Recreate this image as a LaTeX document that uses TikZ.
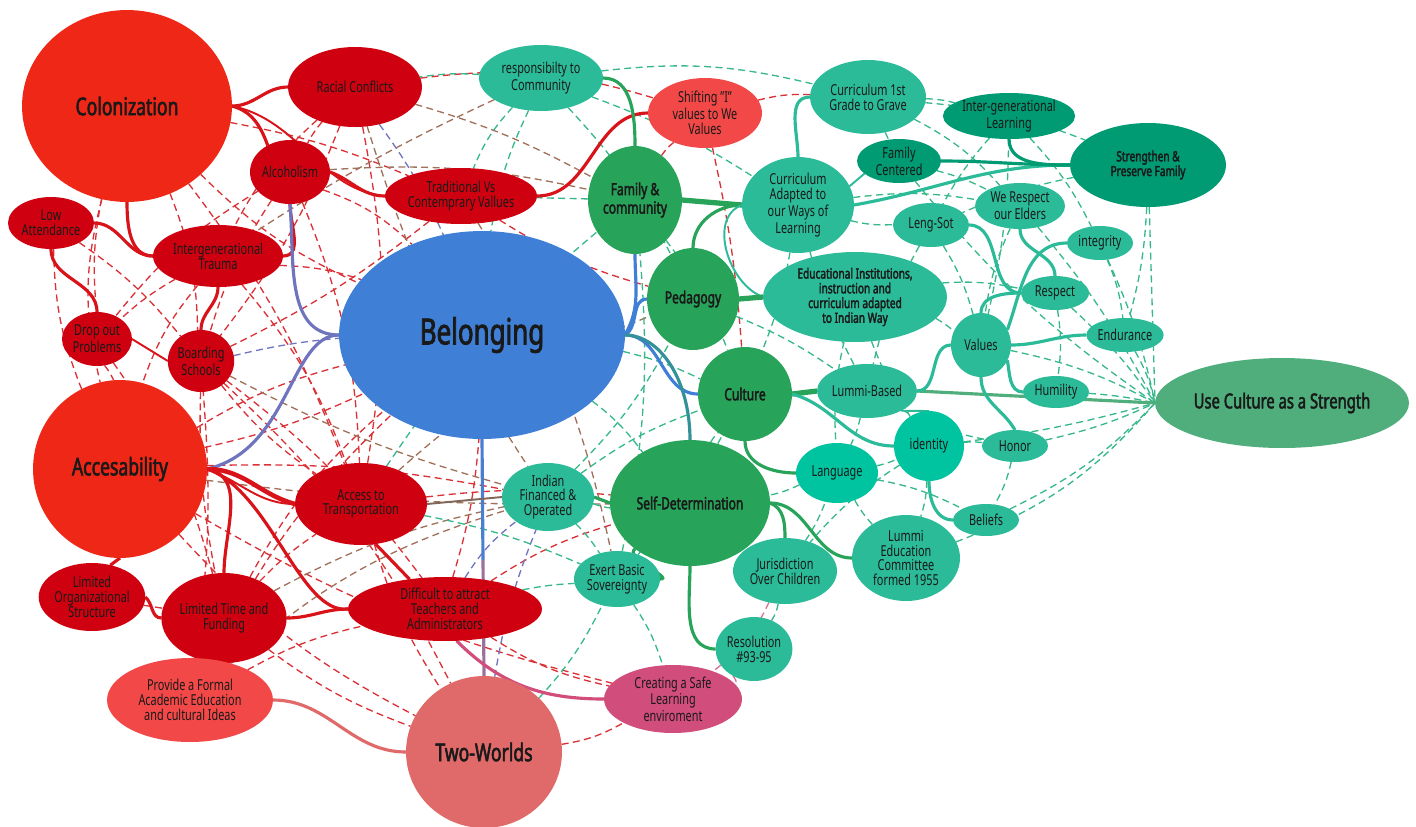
\documentclass[tikz,border=0pt]{standalone}
\usepackage{fontspec}
\setmainfont[FakeStretch=0.72, BoldFont={Noto Sans}, BoldFeatures={FakeBold=2.2}]{Noto Sans}
\usepackage{tikz}
\usetikzlibrary{positioning}
\usetikzlibrary{shapes.geometric,backgrounds}
\pgfdeclarelayer{edgelayer}
\pgfsetlayers{edgelayer,main}

\definecolor{bigred}{HTML}{EF2717}
\definecolor{darkred}{HTML}{CF000F}
\definecolor{lightred}{HTML}{F24848}
\definecolor{rose}{HTML}{E0696A}
\definecolor{pinky}{HTML}{D14D7B}
\definecolor{blueish}{HTML}{3F80D6}
\definecolor{hubg}{HTML}{27A35A}
\definecolor{tealn}{HTML}{2BBB98}
\definecolor{brightt}{HTML}{00C4A0}
\definecolor{darkt}{HTML}{009A73}
\definecolor{sage}{HTML}{4FAE7C}
\definecolor{redl}{HTML}{D8141A}
\definecolor{purp}{HTML}{6F74BE}
\definecolor{dred}{HTML}{DB3035}
\definecolor{dgreen}{HTML}{36B88A}
\definecolor{brownd}{HTML}{A0705A}

\newcommand\regf{\fontsize{8.6}{8.4}\selectfont}
\newcommand\bigf{\fontsize{13.9}{15}\selectfont\bfseries}
\newcommand\hubf{\fontsize{9.5}{10.5}\selectfont\bfseries}
\newcommand\sbf{\fontsize{8}{8.4}\selectfont\bfseries}

\tikzstyle{nd}=[ellipse,inner sep=0pt,outer sep=0pt,align=center,text=black!90,font=\regf]
\tikzstyle{bn}=[nd,fill=bigred,font=\bigf]
\tikzstyle{rn}=[nd,fill=darkred]
\tikzstyle{ln}=[nd,fill=lightred]
\tikzstyle{gn}=[nd,fill=hubg,font=\hubf]
\tikzstyle{tn}=[nd,fill=tealn]
\tikzstyle{bt}=[nd,fill=brightt]
\tikzstyle{dt}=[nd,fill=darkt]
\tikzset{
  sz/.style 2 args={minimum width=#1*0.04cm, minimum height=#2*0.04cm},
  se/.style={draw=#1, line width=1.8pt},
  te/.style={draw=#1, line width=1.1pt},
  de/.style={draw=#1, line width=0.75pt, dash pattern=on 4pt off 2.5pt}
}

\begin{document}
\begin{tikzpicture}[x=0.02cm,y=0.02cm]
  \useasboundingbox (0,0) rectangle (1416,-826);

  % problems side
  \node[bn, sz={105}{96}] (col) at (127,-106) {Colonization};
  \node[rn, sz={67}{40}] (rac) at (355,-87) {Racial Conflicts};
  \node[rn, sz={40}{32}] (alc) at (290,-172) {Alcoholism};
  \node[rn, sz={76}{28}] (trad) at (461,-196) {Traditional Vs\\Contemprary Vallues};
  \node[rn, sz={43}{26}] (low) at (51,-223) {Low\\Attendance};
  \node[rn, sz={65}{31}] (trauma) at (218,-256) {Intergenerational\\Trauma};
  \node[rn, sz={35}{27}] (drop) at (97,-339) {Drop out\\Problems};
  \node[rn, sz={33}{31}] (board) at (201,-361) {Boarding\\Schools};
  \node[bn, sz={87}{89}] (acc) at (120,-469) {Accesability};
  \node[rn, sz={66}{41}] (trans) at (361,-504) {Access to\\Transportation};
  \node[rn, sz={53}{34}] (lorg) at (92,-597) {Limited\\Organizational\\Structure};
  \node[rn, sz={62}{45}] (ltf) at (224,-618) {Limited Time and\\Funding};
  \node[rn, sz={97}{32}] (diff) at (445,-609) {Difficult to attract\\Teachers and\\Administrators};
  \node[ln, sz={83}{42}] (prov) at (190,-700) {Provide a Formal\\Academic Education\\and cultural Ideas};
  \node[bn, fill=rose, sz={78}{76}] (two) at (484,-752) {Two-Worlds};
  \node[nd, fill=pinky, sz={69}{34}] (safe) at (673,-699) {Creating a Safe\\Learning\\enviroment};
  \node[ln, sz={57}{35}] (shift) at (705,-113) {Shifting "I"\\values to We\\Values};

  % centre
  \node[nd, fill=blueish, sz={143}{104}, font=\fontsize{20.5}{22}\selectfont\bfseries] (bel) at (482,-335) {Belonging};

  % strengths side
  \node[gn, sz={47}{54}] (fam) at (635,-200) {Family \&\\community};
  \node[gn, sz={46}{51}] (ped) at (693,-299) {Pedagogy};
  \node[gn, sz={47}{47}] (cult) at (745,-394) {Culture};
  \node[gn, sz={80}{63}] (sd) at (690,-503) {Self-Determination};
  \node[tn, sz={62}{33}] (rtc) at (541,-78) {responsibilty to\\Community};
  \node[tn, sz={58}{37}] (c1st) at (868,-97) {Curriculum 1st\\Grade to Grave};
  \node[dt, sz={42}{22}] (famc) at (899,-161) {Family\\Centered};
  \node[tn, sz={56}{48}] (cadapt) at (798,-205) {Curriculum\\Adapted to\\our Ways of\\Learning};
  \node[dt, sz={65}{23}] (igl) at (1009,-116) {Inter-generational\\Learning};
  \node[dt, sz={78}{42}, font=\sbf] (spf) at (1148,-165) {Strengthen \&\\Preserve Family};
  \node[tn, sz={45}{23}] (elders) at (1020,-206) {We Respect\\our Elders};
  \node[tn, sz={38}{22}] (leng) at (931,-225) {Leng-Sot};
  \node[tn, sz={33}{17}] (integ) at (1100,-243) {integrity};
  \node[tn, sz={34}{17}] (resp) at (1055,-293) {Respect};
  \node[tn, sz={38}{17}] (endur) at (1125,-335) {Endurance};
  \node[tn, sz={30}{32}] (values) at (981,-345) {Values};
  \node[tn, sz={33}{16}] (humil) at (1056,-392) {Humility};
  \node[tn, sz={33}{16}] (honor) at (1015,-446) {Honor};
  \node[tn, sz={33}{16}] (beliefs) at (986,-520) {Beliefs};
  \node[tn, sz={92}{45}, font=\sbf] (edu) at (855,-297) {Educational Institutions,\\instruction and\\curriculum adapted\\to Indian Way};
  \node[tn, sz={50}{27}] (lbased) at (867,-391) {Lummi-Based};
  \node[bt, sz={35}{35}] (iden) at (929,-446) {identity};
  \node[bt, sz={41}{30}] (lang) at (837,-473) {Language};
  \node[tn, sz={54}{43}] (lec) at (906,-558) {Lummi\\Education\\Committee\\formed 1955};
  \node[tn, sz={52}{33}] (jur) at (785,-571) {Jurisdiction\\Over Children};
  \node[tn, sz={38}{32}] (res) at (754,-649) {Resolution\\\#93-95};
  \node[tn, sz={43}{28}] (ebs) at (617,-579) {Exert Basic\\Sovereignty};
  \node[tn, sz={46}{34}] (ifo) at (548,-497) {Indian\\Financed \&\\Operated};
  \node[nd, fill=sage, sz={127}{45}, font=\fontsize{11.7}{13}\selectfont\bfseries] (ucs) at (1282,-403) {Use Culture as a Strength};

  \begin{pgfonlayer}{edgelayer}
    % dashed cross links
    \path[de=dred]
      (col) edge[bend left=10] (board) (col) edge[bend right=8] (drop)
      (col) edge[bend right=10] (bel) (col) edge[bend left=6] (trad)
      (col) edge[bend left=8] (trans) (rac) edge[bend right=10] (trauma)
      (rac) edge[bend left=8] (board) (rac) edge[bend right=6] (alc)
      (rac) edge[bend left=12] (shift) (alc) edge[bend right=8] (board)
      (alc) edge[bend left=10] (trans) (low) edge[bend right=10] (acc)
      (drop) edge[bend left=6] (acc) (drop) edge[bend left=10] (ltf)
      (trauma) edge[bend left=8] (bel) (trauma) edge[bend right=10] (acc)
      (trauma) edge[bend left=10] (trans) (board) edge[bend right=8] (trans)
      (board) edge[bend left=8] (diff) (board) edge[bend right=6] (ltf)
      (acc) edge[bend left=8] (bel) (acc) edge[bend right=6] (bel)
      (acc) edge[bend left=6] (ifo) (acc) edge[bend right=10] (two)
      (acc) edge[bend right=8] (safe) (lorg) edge (ltf)
      (ltf) edge[bend left=10] (bel) (ltf) edge[bend right=8] (two)
      (prov) edge[bend left=8] (diff) (prov) edge[bend left=10] (bel)
      (diff) edge[bend left=8] (sd) (diff) edge[bend right=10] (safe)
      (two) edge[bend right=10] (safe) (trans) edge[bend left=6] (sd)
      (shift) edge[bend left=4] (cult) (shift) edge[bend left=8] (c1st)
      (trad) edge[bend right=8] (ped) (col) edge[bend right=14] (acc)
      (low) edge[bend left=8] (board) (trauma) edge[bend right=6] (drop)
      (alc) edge[bend right=10] (drop) (board) edge[bend left=10] (two)
      (trans) edge[bend right=8] (two) (rac) edge[bend left=10] (trans)
      (trad) edge[bend left=6] (board) (alc) edge[bend left=12] (bel)
      (ltf) edge[bend left=6] (trans) (prov) edge[bend right=6] (board)
      (diff) edge[bend right=6] (bel) (shift) edge[bend right=8] (fam);
    \path[de=brownd]
      (rac) edge[bend right=8] (ifo) (alc) edge[bend left=8] (fam)
      (trad) edge[bend left=10] (ebs) (trans) edge[bend left=10] (ped)
      (board) edge[bend right=6] (ifo) (prov) edge[bend left=12] (ifo)
      (rac) edge[bend left=6] (fam) (acc) edge[bend right=4] (sd)
      (rtc) edge[bend right=4] (trauma) (ltf) edge[bend left=8] (ifo);
    \path[de=purp]
      (diff) edge[bend left=10] (ifo) (board) edge[bend left=4] (bel)
      (rac) edge[bend left=6] (bel) (two) edge[bend left=6] (ifo);
    \path[de=pinky!80]
      (res) edge[bend left=20] (safe) (jur) edge[bend left=14] (safe);
    \path[de=dgreen]
      (rtc) edge[bend left=10] (c1st) (rtc) edge[bend right=10] (trad)
      (rtc) edge[bend left=8] (ped) (rtc) edge[bend left=6] (cadapt)
      (rtc) edge[bend right=6] (rac) (c1st) edge[bend left=8] (spf)
      (c1st) edge[bend left=6] (igl) (c1st) edge (famc)
      (cadapt) edge[bend right=8] (leng) (cadapt) edge[bend left=8] (elders)
      (cadapt) edge[bend left=6] (cult) (famc) edge[bend left=6] (elders)
      (famc) edge[bend right=8] (ucs.west) (igl) edge[bend left=6] (values)
      (igl) edge[bend left=8] (integ) (leng) edge[bend right=8] (lbased)
      (leng) edge[bend left=8] (values) (elders) edge[bend left=6] (ucs.west)
      (integ) edge[bend left=6] (ucs.west) (resp) edge[bend left=6] (ucs.west)
      (endur) edge[bend left=8] (ucs.west) (humil) edge[bend left=4] (ucs.west)
      (honor) edge[bend right=6] (ucs.west) (beliefs) edge[bend right=10] (ucs.west)
      (values) edge[bend left=8] (ucs.west) (iden) edge[bend right=4] (ucs.west)
      (lec) edge[bend right=14] (ucs.west) (spf) edge (ucs.west)
      (spf) edge[bend left=6] (endur) (spf) edge[bend right=6] (leng)
      (edu) edge[bend left=6] (values) (edu) edge[bend right=8] (lang)
      (edu) edge[bend left=8] (resp) (lbased) edge[bend left=6] (lang)
      (lang) edge[bend right=6] (iden) (lang) edge[bend left=6] (sd)
      (iden) edge[bend right=8] (jur) (iden) edge[bend left=8] (lec)
      (honor) edge[bend left=8] (beliefs) (jur) edge[bend left=10] (res)
      (ebs) edge[bend left=8] (safe) (ifo) edge[bend left=6] (ebs)
      (ifo) edge[bend right=6] (sd) (ifo) edge[bend right=8] (ped)
      (ebs) edge[bend right=8] (fam) (sd) edge[bend left=8] (cult)
      (fam) edge (trad) (bel) edge[bend left=6] (cult)
      (lec) edge[bend left=6] (lang) (jur) edge[bend right=6] (lang)
      (diff) edge[bend left=4] (ebs) (two) edge[bend right=8] (ebs)
      (ped) edge[bend left=6] (lbased) (trans) edge[bend left=6] (ebs)
      (bel) edge[bend left=8] (sd) (cadapt) edge[bend right=6] (lbased)
      (rtc) edge[bend right=8] (bel) (fam) edge[bend left=8] (cult)
      (c1st) edge[bend left=10] (elders) (igl) edge[bend right=6] (leng)
      (elders) edge[bend right=8] (values) (integ) edge[bend left=8] (endur)
      (resp) edge[bend left=8] (humil) (edu) edge[bend right=6] (iden)
      (lbased) edge[bend right=8] (honor) (iden) edge[bend left=6] (honor)
      (lang) edge[bend left=8] (beliefs) (ifo) edge[bend left=8] (cult)
      (ebs) edge[bend right=6] (cult) (trans) edge[bend left=8] (fam);

    % solid links, problems side
    \draw[se=redl] (col.east) to[out=0,in=180] (rac.west);
    \draw[se=redl] (col.east) to[out=-15,in=110] (alc.130);
    \draw[te=redl] (col.east) .. controls (300,-120) and (320,-190) .. (trad.west);
    \draw[se=redl] (alc.east) to[out=-20,in=180] (trad.west);
    \draw[se=redl] (col.south) to[out=-90,in=180] (trauma.west);
    \draw[se=redl] (low.east) to[out=0,in=180] (trauma.west);
    \draw[se=redl] (low.south) to[out=-90,in=90] (drop.north);
    \draw[se=redl] (trauma.south) to[out=-90,in=90] (board.north);
    \draw[se=redl] (alc.south) to[out=-90,in=0] (trauma.east);
    \draw[te=redl] (drop.east) -- (board.west);
    \draw[se=purp] (bel.west) to[out=180,in=-85] (alc.south);
    \draw[se=purp] (bel.west) .. controls (290,-335) and (290,-450) .. (acc.east);
    \draw[se=redl, line width=2.6pt] (acc.east) to[out=0,in=165] (trans.west);
    \draw[te=redl] (acc.east) to[out=-20,in=180] (trans.west);
    \draw[se=redl] (acc.east) .. controls (270,-490) and (300,-615) .. (diff.west);
    \draw[se=redl] (acc.south) -- (lorg.60);
    \draw[se=redl] (acc.east) to[out=-10,in=90] (ltf.north);
    \draw[se=redl] (lorg.east) to[out=-40,in=180] (ltf.west);
    \draw[se=redl] (ltf.east) to[out=0,in=180] (diff.west);
    \draw[se=redl] (trans.290) -- (diff.140);
    \draw[se=redl] (trad.east) to[out=0,in=180] (shift.west);
    \coordinate (btmid) at (483,-560);
    \draw[se=blueish!80!purp] (bel.south) -- (btmid);
    \draw[se=purp!60!rose] (btmid) -- (two.north);
    \draw[se=rose] (two.west) to[out=180,in=0] (prov.east);
    \draw[se=pinky] (diff.-70) to[out=-45,in=180] (safe.west);
    \draw[te=redl!50!tealn] (trans.east) -- (ifo.west);

    % solid links, strengths side
    \draw[se=blueish] (bel.east) to[out=60,in=-90] (fam.south);
    \draw[se=blueish] (bel.east) to[out=30,in=180] (ped.west);
    \draw[se=blueish] (bel.east) to[out=0,in=180] (cult.west);
    \draw[se=blueish!50!hubg] (bel.east) .. controls (660,-335) and (690,-380) .. (sd.north);
    \draw[se=hubg] (fam.north) to[out=90,in=0] (rtc.east);
    \draw[se=hubg, line width=3pt] (fam.east) -- (cadapt.west);
    \draw[se=tealn] (cadapt.north) to[out=90,in=180] (c1st.west);
    \draw[se=tealn] (cadapt.east) to[out=10,in=180] (spf.west);
    \draw[se=darkt] (famc.east) to[out=0,in=180] (spf.west);
    \draw[te=tealn] (cadapt.20) -- (famc.200);
    \draw[se=darkt] (igl.south) to[out=-90,in=180] (spf.west);
    \draw[se=hubg] (ped.north) to[out=90,in=180] (cadapt.west);
    \draw[te=tealn] (cadapt.west) to[out=200,in=160] (edu.west);
    \draw[se=hubg, line width=3pt] (ped.east) -- (edu.west);
    \draw[se=hubg, line width=3pt] (cult.east) -- (lbased.west);
    \draw[se=hubg] (cult.south) to[out=-90,in=180] (lang.west);
    \draw[se=tealn] (cult.east) to[out=-15,in=180] (iden.west);
    \draw[se=sage] (lbased.east) -- (ucs.west);
    \draw[te=tealn] (lbased.-30) -- (iden.north);
    \draw[se=tealn] (lbased.east) to[out=0,in=180] (values.west);
    \draw[se=tealn] (values.north) to[out=90,in=180] (resp.west);
    \draw[se=tealn] (values.east) to[out=0,in=180] (endur.west);
    \draw[se=tealn] (values.-30) to[out=-80,in=180] (humil.west);
    \draw[se=tealn] (values.south) to[out=-90,in=120] (honor.north);
    \draw[se=tealn] (values.30) to[out=70,in=180] (integ.west);
    \draw[se=tealn] (elders.south) to[out=-90,in=90] (resp.north);
    \draw[se=tealn] (leng.east) to[out=0,in=180] (resp.west);
    \draw[se=tealn] (iden.south) to[out=-90,in=180] (beliefs.west);
    \draw[se=hubg] (sd.west) -- (ifo.east);
    \draw[se=hubg] (sd.-140) to[out=-150,in=0] (ebs.east);
    \draw[se=hubg] (sd.south) to[out=-90,in=180] (res.west);
    \draw[se=hubg] (sd.east) to[out=-20,in=90] (jur.north);
    \draw[se=hubg] (sd.east) to[out=0,in=180] (lec.west);
  \end{pgfonlayer}
\end{tikzpicture}
\end{document}
